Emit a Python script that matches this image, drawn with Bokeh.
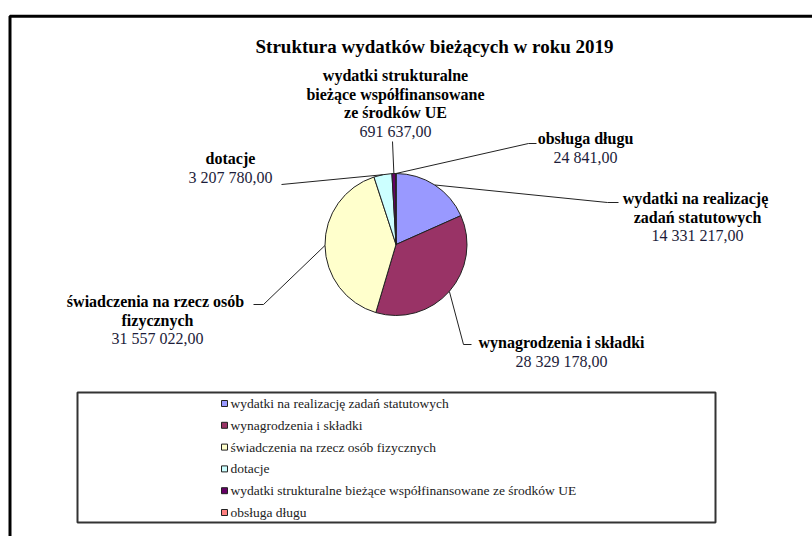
import numpy as np
from bokeh.plotting import figure
from bokeh.models import Range1d, ColumnDataSource
from bokeh.core.properties import value
from bokeh.embed import file_html
from bokeh.resources import INLINE

# ---------------- data ----------------
title = "Struktura wydatków bieżących w roku 2019"
categories = [
    "wydatki na realizację zadań statutowych",
    "wynagrodzenia i składki",
    "świadczenia na rzecz osób fizycznych",
    "dotacje",
    "wydatki strukturalne bieżące współfinansowane ze środków UE",
    "obsługa długu",
]
label_lines = [
    ["wydatki na  realizację", "zadań statutowych"],
    ["wynagrodzenia i składki"],
    ["świadczenia na  rzecz osób", "fizycznych"],
    ["dotacje"],
    ["wydatki strukturalne", "bieżące współfinansowane", "ze środków UE"],
    ["obsługa długu"],
]
values = [14331217.00, 28329178.00, 31557022.00, 3207780.00, 691637.00, 24841.00]
colors = ["#9999FF", "#993366", "#FFFFCC", "#CCFFFF", "#660066", "#FF8080"]

# ---------------- layout (page pixel coords) ----------------
W, H = 812, 536
IMG_H = 536
def Y(v):
    return IMG_H - np.asarray(v, dtype=float)

CX, CY, R = 395.5, 244.0, 71.0
label_pos = [(697, 198), (561, 342), (157, 301), (230, 158), (395, 75), (585, 138)]
elbows = [(607, 202), (463, 344), (263, 304), (281, 184), (392, 141), (528, 143)]
ends = [(618, 202), (471, 344), (253, 304), (281, 184), (392, 141), (536, 143)]
LINE_STEP = 18.7
SERIF = value("Liberation Serif")

p = figure(width=W, height=H, output_backend="svg", toolbar_location=None,
           x_range=Range1d(0, W), y_range=Range1d(0, H),
           x_axis_location=None, y_axis_location=None, min_border=0)
p.grid.grid_line_color = None
p.outline_line_color = None
p.background_fill_color = "white"
p.border_fill_color = "white"

# outer frame (only left & top visible in window)
p.line(x=[9.5, 9.5, 1000], y=Y([900, 15.8, 15.8]), line_color="black", line_width=3)

# title
p.text(x=[434], y=Y([46]), text=[title], text_align="center", text_baseline="middle",
       text_font=SERIF, text_font_style="bold", text_font_size="19px", text_color="black")

# pie
vals = np.array(values)
frac = vals / vals.sum()
cum_end = np.cumsum(frac)
cum_start = cum_end - frac
src = ColumnDataSource(dict(
    start=np.pi / 2 - 2 * np.pi * cum_end,
    end=np.pi / 2 - 2 * np.pi * cum_start,
    color=colors, cat=categories))
p.wedge(x=CX, y=float(Y(CY)), radius=R, start_angle="start", end_angle="end",
        fill_color="color", line_color="#222222", line_width=1, source=src)

# leader lines
mid = (cum_start + cum_end) / 2
mx = CX + R * np.sin(2 * np.pi * mid)
my = CY - R * np.cos(2 * np.pi * mid)
xs, ys = [], []
for i in range(len(values)):
    xs.append([mx[i], elbows[i][0], ends[i][0]])
    ys.append(list(Y([my[i], elbows[i][1], ends[i][1]])))
p.multi_line(xs=xs, ys=ys, line_color="#222222", line_width=1)

# data labels
def fmt(v):
    return f"{v:,.2f}".replace(",", " ").replace(".", ",")

bx, by, bt, nx, ny, nt = [], [], [], [], [], []
for i, lines in enumerate(label_lines):
    lx, ly = label_pos[i]
    for j, ln in enumerate(lines):
        bx.append(lx); by.append(ly + j * LINE_STEP); bt.append(ln)
    nx.append(lx); ny.append(ly + len(lines) * LINE_STEP); nt.append(fmt(values[i]))
p.text(x=bx, y=Y(by), text=bt, text_align="center", text_baseline="middle",
       text_font=SERIF, text_font_style="bold", text_font_size="16px", text_color="black")
p.text(x=nx, y=Y(ny), text=nt, text_align="center", text_baseline="middle",
       text_font=SERIF, text_font_size="16px", text_color="#1c1c3a")

# legend
p.quad(left=[77], right=[715], top=Y([392]), bottom=Y([522]), fill_color=None,
       line_color="#333333", line_width=2)
rows = 403 + np.arange(len(categories)) * 21.8
p.rect(x=[224] * len(categories), y=Y(rows), width=6, height=6, fill_color=colors,
       line_color="#222222", line_width=1)
p.text(x=[230] * len(categories), y=Y(rows), text=categories, text_align="left",
       text_baseline="middle", text_font=SERIF, text_font_size="13.5px", text_color="#222222")

open("out.html", "w").write(file_html(p, INLINE))
